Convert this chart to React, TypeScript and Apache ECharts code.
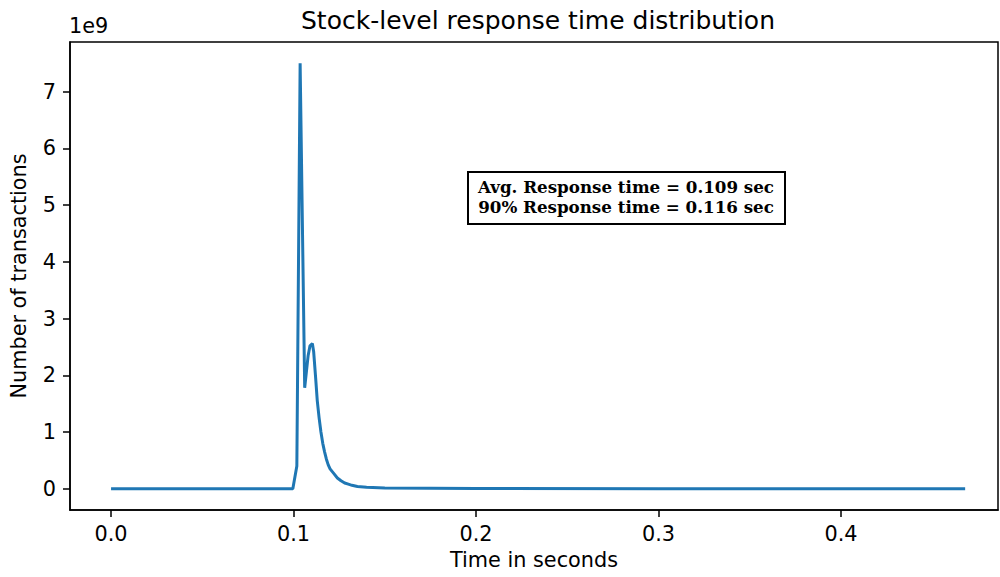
import React, { useEffect, useRef } from "react";
import * as echarts from "echarts";

// Response time (seconds)
const times = [
  0, 0.0996, 0.1018, 0.1036, 0.1061, 0.107, 0.108, 0.109, 0.1103, 0.111, 0.112,
  0.113, 0.114, 0.115, 0.116, 0.117, 0.118, 0.119, 0.12, 0.122, 0.124, 0.126,
  0.128, 0.13, 0.132, 0.135, 0.14, 0.15, 0.2, 0.3, 0.468,
];
// Number of transactions (in units of 1e9)
const countsE9 = [
  0, 0, 0.4, 7.5, 1.78, 2.05, 2.35, 2.52, 2.56, 2.42, 2.0, 1.55, 1.25, 1.0, 0.8,
  0.65, 0.52, 0.42, 0.35, 0.27, 0.19, 0.14, 0.1, 0.08, 0.06, 0.04, 0.025, 0.012,
  0.003, 0.001, 0,
];
const xTicks = [0, 0.1, 0.2, 0.3, 0.4];
const yTicks = [0, 1, 2, 3, 4, 5, 6, 7];
const titleText = "Stock-level response time distribution";
const xLabel = "Time in seconds";
const yLabel = "Number of transactions";
const noteLines = ["Avg. Response time = 0.109 sec", "90% Response time = 0.116 sec"];

export default function App() {
  const ref = useRef<HTMLDivElement>(null);
  useEffect(() => {
    if (!ref.current) return;
    const chart = echarts.init(ref.current, null, { renderer: "svg" });
    const font = "DejaVu Sans";
    chart.setOption({
      animation: false,
      backgroundColor: "#ffffff",
      textStyle: { fontFamily: font },
      title: {
        text: titleText,
        left: 533,
        top: 3,
        textAlign: "center",
        textStyle: { fontFamily: font, fontSize: 25, fontWeight: "normal", color: "#000" },
      },
      grid: {
        left: 70,
        top: 42,
        right: 2,
        bottom: 67,
        show: true,
        borderColor: "#000",
        borderWidth: 1.5,
        backgroundColor: "transparent",
      },
      xAxis: {
        type: "value",
        min: -0.0225,
        max: 0.486,
        name: xLabel,
        nameLocation: "middle",
        nameGap: 39,
        nameTextStyle: { fontFamily: font, fontSize: 20.8, color: "#000" },
        axisLine: { show: true, onZero: false, lineStyle: { color: "#000", width: 1.5 } },
        axisTick: { show: true, length: 7, customValues: xTicks, lineStyle: { color: "#000", width: 1.5 } },
        axisLabel: {
          customValues: xTicks,
          formatter: (v: number) => v.toFixed(1),
          margin: 13,
          fontFamily: font,
          fontSize: 20.8,
          color: "#000",
        },
        splitLine: { show: false },
      },
      yAxis: {
        type: "value",
        min: -0.375,
        max: 7.875,
        name: yLabel,
        nameLocation: "middle",
        nameGap: 41,
        nameRotate: 90,
        nameTextStyle: { fontFamily: font, fontSize: 20.8, color: "#000" },
        axisLine: { show: true, onZero: false, lineStyle: { color: "#000", width: 1.5 } },
        axisTick: { show: true, length: 7, customValues: yTicks, lineStyle: { color: "#000", width: 1.5 } },
        axisLabel: {
          customValues: yTicks,
          formatter: (v: number) => String(Math.round(v)),
          margin: 14,
          fontFamily: font,
          fontSize: 20.8,
          color: "#000",
        },
        splitLine: { show: false },
      },
      graphic: [
        {
          type: "text",
          left: 69,
          top: 15,
          style: { text: "1e9", fontFamily: font, fontSize: 20.8, fill: "#000" },
        },
        {
          type: "rect",
          shape: { x: 468, y: 172, width: 317, height: 52 },
          style: { fill: "#fff", stroke: "#000", lineWidth: 2 },
          z: 10,
        },
        {
          type: "text",
          x: 626,
          y: 197,
          z: 11,
          style: {
            text: noteLines.join("\n"),
            fontFamily: "DejaVu Serif",
            fontWeight: "bold",
            fontSize: 16.7,
            lineHeight: 20,
            fill: "#000",
            align: "center",
            verticalAlign: "middle",
          },
        },
      ],
      series: [
        {
          type: "line",
          data: times.map((t, i) => [t, countsE9[i]]),
          showSymbol: false,
          lineStyle: { color: "#1f77b4", width: 3 },
          itemStyle: { color: "#1f77b4" },
        },
      ],
    });
    return () => chart.dispose();
  }, []);
  return <div ref={ref} style={{ position: "fixed", left: 0, top: 0, width: 1000, height: 577 }} />;
}
